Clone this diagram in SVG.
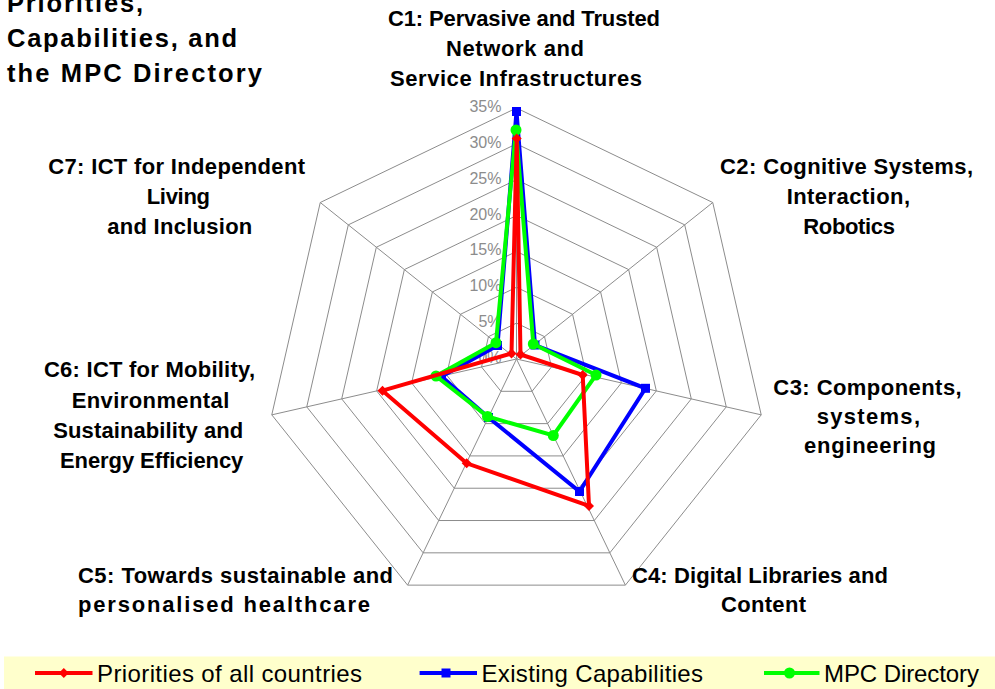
<svg xmlns="http://www.w3.org/2000/svg" width="995" height="689" viewBox="0 0 995 689">
<style>
.grid{fill:none;stroke:#8c8c8c;stroke-width:1}
.tick{font-family:"Liberation Sans",Arial,sans-serif;font-size:16px;fill:#8c8c8c;text-anchor:end}
.cat{font-family:"Liberation Sans",Arial,sans-serif;font-size:22px;font-weight:bold;fill:#000}
.title{font-family:"Liberation Sans",Arial,sans-serif;font-size:25.5px;font-weight:bold;fill:#000}
.leg{font-family:"Liberation Sans",Arial,sans-serif;font-size:24px;fill:#000}
.s{fill:none;stroke-width:4;stroke-linejoin:miter}
.red{stroke:#ff0000}
.blue{stroke:#0000ff}
.green{stroke:#00ff00}
</style>
<defs>
<path id="dia" d="M0,-5 L5,0 L0,5 L-5,0 Z" fill="#ff0000"/>
<rect id="sq" x="-4.5" y="-4.5" width="9" height="9" fill="#0000ff"/>
<circle id="dot" r="5.5" fill="#00ff00"/>
</defs>
<rect width="995" height="689" fill="#ffffff"/>

<g id="title">
<text class="title" x="7" y="11.7" textLength="136" lengthAdjust="spacing">Priorities,</text>
<text class="title" x="7" y="46.7" textLength="230" lengthAdjust="spacing">Capabilities, and</text>
<text class="title" x="7" y="81.7" textLength="255" lengthAdjust="spacing">the MPC Directory</text>
</g>

<g id="grid">
<polygon class="grid" points="516.5,323.14 544.53,336.64 551.46,366.98 532.06,391.31 500.94,391.31 481.54,366.98 488.47,336.64"/>
<polygon class="grid" points="516.5,287.29 572.57,314.29 586.42,374.96 547.62,423.61 485.38,423.61 446.58,374.96 460.43,314.29"/>
<polygon class="grid" points="516.5,251.43 600.60,291.93 621.37,382.94 563.17,455.92 469.83,455.92 411.63,382.94 432.40,291.93"/>
<polygon class="grid" points="516.5,215.57 628.64,269.57 656.33,390.92 578.73,488.22 454.27,488.22 376.67,390.92 404.36,269.57"/>
<polygon class="grid" points="516.5,179.71 656.67,247.22 691.29,398.89 594.29,520.53 438.71,520.53 341.71,398.89 376.33,247.22"/>
<polygon class="grid" points="516.5,143.86 684.71,224.86 726.25,406.87 609.85,552.83 423.15,552.83 306.75,406.87 348.29,224.86"/>
<polygon class="grid" points="516.5,108 712.74,202.5 761.21,414.85 625.4,585.14 407.6,585.14 271.79,414.85 320.26,202.5"/>
<path class="grid" d="M516.5,359 L516.5,108 M516.5,359 L712.74,202.5 M516.5,359 L761.21,414.85 M516.5,359 L625.4,585.14 M516.5,359 L407.6,585.14 M516.5,359 L271.79,414.85 M516.5,359 L320.26,202.5"/>
</g>

<g id="axis-ticks">
<text class="tick" x="501.5" y="112">35%</text>
<text class="tick" x="501.5" y="147.9">30%</text>
<text class="tick" x="501.5" y="183.7">25%</text>
<text class="tick" x="501.5" y="219.6">20%</text>
<text class="tick" x="501.5" y="255.4">15%</text>
<text class="tick" x="501.5" y="291.3">10%</text>
<text class="tick" x="501.5" y="327.1">5%</text>
<text class="tick" x="501.5" y="363">0%</text>
</g>

<g id="C1">
<text class="cat" x="388" y="26" textLength="272" lengthAdjust="spacing">C1: Pervasive and Trusted</text>
<text class="cat" x="446" y="56" textLength="138" lengthAdjust="spacing">Network and</text>
<text class="cat" x="390" y="86" textLength="252" lengthAdjust="spacing">Service Infrastructures</text>
</g>
<g id="C2">
<text class="cat" x="720" y="174.3" textLength="253" lengthAdjust="spacing">C2: Cognitive Systems,</text>
<text class="cat" x="786.7" y="204" textLength="123.3" lengthAdjust="spacing">Interaction,</text>
<text class="cat" x="803.3" y="234" textLength="91.7" lengthAdjust="spacing">Robotics</text>
</g>
<g id="C3">
<text class="cat" x="773.3" y="395" textLength="188.4" lengthAdjust="spacing">C3: Components,</text>
<text class="cat" x="816.7" y="424" textLength="103.3" lengthAdjust="spacing">systems,</text>
<text class="cat" x="804" y="453.3" textLength="132" lengthAdjust="spacing">engineering</text>
</g>
<g id="C4">
<text class="cat" x="632" y="583" textLength="256" lengthAdjust="spacing">C4: Digital Libraries and</text>
<text class="cat" x="721" y="612" textLength="85" lengthAdjust="spacing">Content</text>
</g>
<g id="C5">
<text class="cat" x="78" y="583" textLength="315" lengthAdjust="spacing">C5: Towards sustainable and</text>
<text class="cat" x="78" y="612" textLength="292" lengthAdjust="spacing">personalised healthcare</text>
</g>
<g id="C6">
<text class="cat" x="44" y="377.3" textLength="211" lengthAdjust="spacing">C6: ICT for Mobility,</text>
<text class="cat" x="71.7" y="408.3" textLength="157.6" lengthAdjust="spacing">Environmental</text>
<text class="cat" x="53.3" y="438.3" textLength="190" lengthAdjust="spacing">Sustainability and</text>
<text class="cat" x="60" y="468.3" textLength="183.3" lengthAdjust="spacing">Energy Efficiency</text>
</g>
<g id="C7">
<text class="cat" x="48.3" y="174" textLength="256.7" lengthAdjust="spacing">C7: ICT for Independent</text>
<text class="cat" x="146.7" y="204" textLength="63.3" lengthAdjust="spacing">Living</text>
<text class="cat" x="107.3" y="234" textLength="145" lengthAdjust="spacing">and Inclusion</text>
</g>

<g id="connectors">
<g id="series-capabilities">
<polygon class="s blue" points="516.5,111.5 535,345 645.5,388.3 579.5,491.5 488.5,417.5 441.5,376.5 497.5,345.5"/>
<use href="#sq" x="516.5" y="111.5"/><use href="#sq" x="535" y="345"/><use href="#sq" x="645.5" y="388.3"/><use href="#sq" x="579.5" y="491.5"/><use href="#sq" x="488.5" y="417.5"/><use href="#sq" x="441.5" y="376.5"/><use href="#sq" x="497.5" y="345.5"/>
</g>
<g id="series-mpc">
<polygon class="s green" points="516,130 533.3,344 596,375 553.3,435.5 487.5,416.5 436,376 496,342.7"/>
<use href="#dot" x="516" y="130"/><use href="#dot" x="533.3" y="344"/><use href="#dot" x="596" y="375"/><use href="#dot" x="553.3" y="435.5"/><use href="#dot" x="487.5" y="416.5"/><use href="#dot" x="436" y="376"/><use href="#dot" x="496" y="342.7"/>
</g>
<g id="series-priorities">
<polygon class="s red" points="516.7,138.5 520.5,354.5 582.7,375 589,506 466.7,463.3 382.5,390.7 511.5,353.5"/>
<use href="#dia" x="516.7" y="138.5"/><use href="#dia" x="520.5" y="354.5"/><use href="#dia" x="582.7" y="375"/><use href="#dia" x="589" y="506"/><use href="#dia" x="466.7" y="463.3"/><use href="#dia" x="382.5" y="390.7"/><use href="#dia" x="511.5" y="353.5"/>
</g>
</g>

<g id="legend">
<rect x="4" y="656.5" width="991" height="32.5" fill="#ffffcc"/>
<line class="s red" x1="35" y1="673" x2="92.5" y2="673"/>
<use href="#dia" x="63.8" y="673"/>
<text class="leg" x="97" y="681.5" textLength="265" lengthAdjust="spacing">Priorities of all countries</text>
<line class="s blue" x1="419.6" y1="673" x2="477" y2="673"/>
<use href="#sq" x="446" y="673"/>
<text class="leg" x="481.5" y="681.5" textLength="221.5" lengthAdjust="spacing">Existing Capabilities</text>
<line class="s green" x1="764" y1="673" x2="819.5" y2="673"/>
<use href="#dot" x="789.5" y="673"/>
<text class="leg" x="824" y="681.5" textLength="155" lengthAdjust="spacing">MPC Directory</text>
</g>
</svg>
